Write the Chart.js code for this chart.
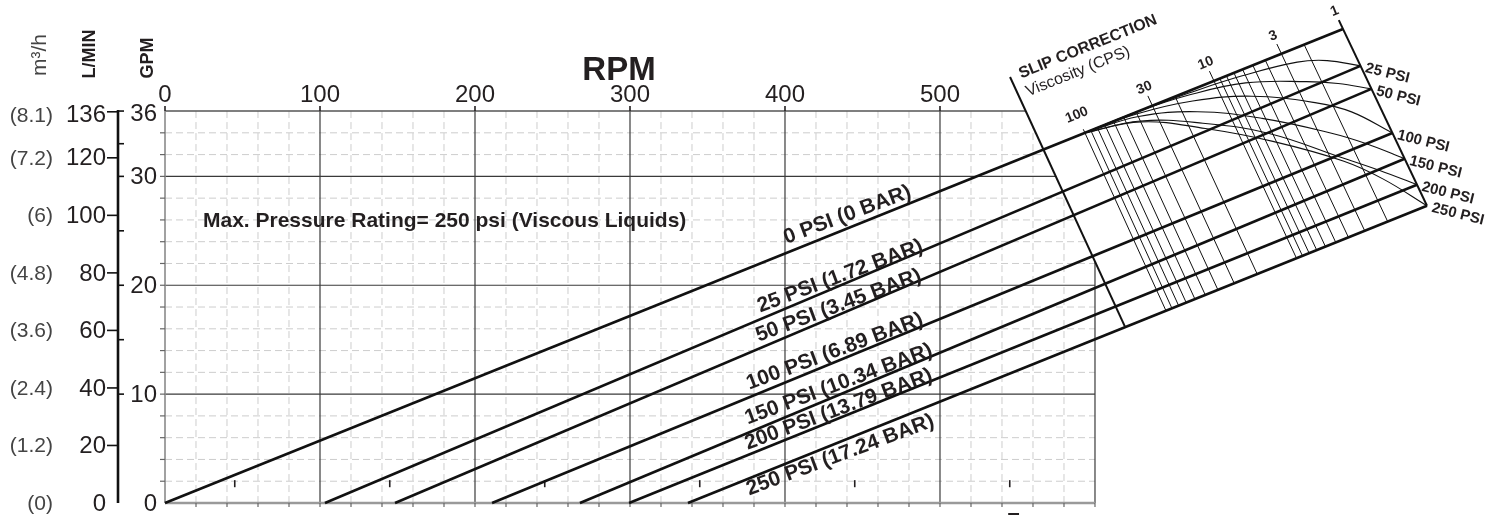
<!DOCTYPE html>
<html>
<head>
<meta charset="utf-8">
<script src="https://cdn.jsdelivr.net/npm/chart.js@4.4.0/dist/chart.umd.min.js"></script>
<style>
  html, body { margin: 0; padding: 0; background: #fff; }
  canvas { display: block; }
</style>
</head>
<body>
<canvas id="pump-chart" width="1502" height="529"></canvas>
<script>
// ─── VALUES ──────────────────────────────────────────────────────
const rpmTicks   = [0, 100, 200, 300, 400, 500];
const rpmMajor   = [100, 200, 300, 400, 500, 600];
const gpmTicks   = [0, 10, 20, 30, 36];
const gpmMajor   = [10, 20, 30];
const gpmMinor   = [15, 25, 33];
const lpmTicks   = [0, 20, 40, 60, 80, 100, 120, 136];
const m3hTicks   = ['(0)', '(1.2)', '(2.4)', '(3.6)', '(4.8)', '(6)', '(7.2)', '(8.1)'];
const LPM_PER_GPM = 3.785;
const RPM_MAX = 600, GPM_MAX = 36;          // the gridded part
const RPM_VIEW = 861.3, GPM_VIEW = 46.2;    // scale range, leaves room for the nomogram

const psiLabels   = ['0 PSI (0 BAR)', '25 PSI (1.72 BAR)', '50 PSI (3.45 BAR)', '100 PSI (6.89 BAR)',
                     '150 PSI (10.34 BAR)', '200 PSI (13.79 BAR)', '250 PSI (17.24 BAR)'];
const psiShort    = ['', '25 PSI', '50 PSI', '100 PSI', '150 PSI', '200 PSI', '250 PSI'];
const zeroFlowRpm = [0, 103.2, 148.4, 211, 267.7, 299.4, 337.4];   // RPM where each line leaves 0 GPM
const edgeDepth   = [0, 0.209, 0.339, 0.588, 0.734, 0.881, 1];     // where each line meets the 1 cP edge (0 top, 1 bottom)
const labelRpm    = [401, 384, 383, 377, 376, 376, 377];
const labelGpm    = [23.8, 17.5, 14.8, 10.4, 7.2, 4.9, 0.7];

// slip correction nomogram
const viscosity   = [100, 90, 80, 70, 60, 50, 40, 30, 20, 10, 9, 8, 7, 6, 5, 4, 3, 2];
const viscLabels  = [100, 30, 10, 3, 1];
const nomoTop     = [[593.5, 34.0], [760, 43.54]];    // 100 cP and 1 cP on the 0 PSI line
const nomoBottom  = [[645.8, 17.66], [814.2, 27.3]];  // 100 cP and 1 cP on the 250 PSI line
const nomoLeft    = [[545.2, 39.13], [619.4, 16.17]];
const curveS      = [0, 0.2, 0.4, 0.6, 0.8, 0.9, 1];  // 0 = 100 cP, 1 = 1 cP
const slip25      = [0, 0, 0.01, 0.03, 0.07, 0.12, 0.209];
const slip50      = [0, 0, 0.02, 0.07, 0.18, 0.25, 0.339];
const slip100     = [0, 0.01, 0.055, 0.145, 0.3, 0.41, 0.588];
const slip150     = [0, 0.025, 0.115, 0.27, 0.47, 0.59, 0.734];
const slip200     = [0, 0.05, 0.18, 0.355, 0.61, 0.74, 0.881];
const slip250     = [0, 0.055, 0.21, 0.4, 0.63, 0.79, 1];

const strayTickRpm = [45, 145, 245, 345, 445, 545];

// ─── HELPERS ─────────────────────────────────────────────────────
const FONT = '"Liberation Sans", Arial, sans-serif';
const INK  = '#231f20';

function lerp(a, b, t) { return [a[0] + (b[0] - a[0]) * t, a[1] + (b[1] - a[1]) * t]; }
function viscToS(v) { return (2 - Math.log10(v)) / 2; }
function nomoPoint(s, d) {
  const top = lerp(nomoTop[0], nomoTop[1], s);
  const bot = lerp(nomoBottom[0], nomoBottom[1], s);
  return lerp(top, bot, d);
}

function seg(ctx, x1, y1, x2, y2) { ctx.beginPath(); ctx.moveTo(x1, y1); ctx.lineTo(x2, y2); ctx.stroke(); }
function text(ctx, str, x, y, opts = {}) {
  ctx.save();
  ctx.translate(x, y);
  if (opts.rot) ctx.rotate(opts.rot);
  ctx.font = opts.font || '24px ' + FONT;
  ctx.fillStyle = opts.color || INK;
  ctx.textAlign = opts.align || 'left';
  ctx.textBaseline = opts.base || 'alphabetic';
  ctx.fillText(str, 0, 0);
  ctx.restore();
}

// ─── DATASETS ────────────────────────────────────────────────────
const lineSets = psiLabels.map((name, i) => {
  const end = nomoPoint(1, edgeDepth[i]);
  return {
    label: name,
    data: [{ x: zeroFlowRpm[i], y: 0 }, { x: end[0], y: end[1] }],
    borderColor: '#111', borderWidth: 2.6
  };
});

const curveSets = [slip25, slip50, slip100, slip150, slip200, slip250].map(c => ({
  label: 'slip',
  data: curveS.map((s, k) => { const p = nomoPoint(s, c[k]); return { x: p[0], y: p[1] }; }),
  borderColor: '#111', borderWidth: 1.1, tension: 0.4
}));

// ─── GRID + MASK (under the lines) ───────────────────────────────
const gridPlugin = {
  id: 'pumpGrid',
  beforeDatasetsDraw(chart) {
    const { ctx, scales: { x, y } } = chart;
    const L = x.getPixelForValue(0), R = x.getPixelForValue(RPM_MAX);
    const T = y.getPixelForValue(GPM_MAX), B = y.getPixelForValue(0);
    ctx.save();
    ctx.lineCap = 'butt';

    // dashed minor grid
    ctx.strokeStyle = '#cdcdcd'; ctx.lineWidth = 1; ctx.setLineDash([7, 4]);
    for (let r = 20; r < RPM_MAX; r += 20) if (r % 100) seg(ctx, x.getPixelForValue(r), T, x.getPixelForValue(r), B);
    for (let g = 2; g < GPM_MAX; g += 2) if (g % 10) seg(ctx, L, y.getPixelForValue(g), R, y.getPixelForValue(g));
    ctx.setLineDash([]);

    // solid major grid
    ctx.strokeStyle = '#3a3a3a'; ctx.lineWidth = 1.2;
    rpmMajor.forEach(r => seg(ctx, x.getPixelForValue(r), T, x.getPixelForValue(r), B));
    gpmMajor.forEach(g => seg(ctx, L, y.getPixelForValue(g), R, y.getPixelForValue(g)));

    // frame
    ctx.strokeStyle = '#555'; ctx.lineWidth = 1.6;
    seg(ctx, L, T, R, T);
    ctx.strokeStyle = '#8a8a8a'; ctx.lineWidth = 1.6;
    seg(ctx, L, T, L, B);
    ctx.strokeStyle = '#9a9a9a'; ctx.lineWidth = 2.4;
    seg(ctx, L, B, R, B);

    // small ticks on frame
    ctx.strokeStyle = '#666'; ctx.lineWidth = 1.2;
    for (let r = 20; r <= RPM_MAX; r += 20) seg(ctx, x.getPixelForValue(r), B, x.getPixelForValue(r), B + 4);
    for (let g = 2; g < GPM_MAX; g += 2) seg(ctx, L - 5, y.getPixelForValue(g), L, y.getPixelForValue(g));
    ctx.strokeStyle = INK; ctx.lineWidth = 1.6;
    rpmTicks.forEach(r => seg(ctx, x.getPixelForValue(r), T - 5, x.getPixelForValue(r), T));

    // white area of the nomogram covers the grid
    const poly = [nomoLeft[0], nomoLeft[1], [700, nomoLeft[1][1]], [700, 50], [nomoLeft[0][0], 50]];
    ctx.fillStyle = '#fff';
    ctx.beginPath();
    poly.forEach((p, k) => {
      const px = x.getPixelForValue(p[0]), py = y.getPixelForValue(p[1]);
      k ? ctx.lineTo(px, py) : ctx.moveTo(px, py);
    });
    ctx.closePath(); ctx.fill();

    // stray marks near the bottom
    ctx.strokeStyle = INK; ctx.lineWidth = 1.6;
    strayTickRpm.forEach(r => seg(ctx, x.getPixelForValue(r), y.getPixelForValue(2.1), x.getPixelForValue(r), y.getPixelForValue(1.45)));
    ctx.lineWidth = 2;
    seg(ctx, x.getPixelForValue(544), B + 11, x.getPixelForValue(551), B + 11);
    ctx.restore();
  }
};

// ─── NOMOGRAM, AXES AND TEXT (over the lines) ────────────────────
const annotPlugin = {
  id: 'pumpAnnot',
  afterDatasetsDraw(chart) {
    const { ctx, scales: { x, y } } = chart;
    const P = p => [x.getPixelForValue(p[0]), y.getPixelForValue(p[1])];
    const T = y.getPixelForValue(GPM_MAX);
    ctx.save();

    // viscosity lines
    ctx.strokeStyle = '#111'; ctx.lineWidth = 1;
    viscosity.forEach(v => {
      const s = viscToS(v);
      const t = P(nomoPoint(s, viscLabels.includes(v) ? (v === 100 ? -0.02 : -0.055) : 0));
      const b = P(nomoPoint(s, 1));
      seg(ctx, t[0], t[1], b[0], b[1]);
    });
    // edges
    ctx.lineWidth = 2;
    let p1 = P(nomoPoint(1, -0.05)), p2 = P(nomoPoint(1, 1));
    seg(ctx, p1[0], p1[1], p2[0], p2[1]);
    p1 = P(nomoLeft[0]); p2 = P(nomoLeft[1]);
    seg(ctx, p1[0], p1[1], p2[0], p2[1]);

    const t0 = P(nomoTop[0]), t1 = P(nomoTop[1]);
    const topAng = Math.atan2(t1[1] - t0[1], t1[0] - t0[0]);

    // viscosity labels
    viscLabels.forEach(v => {
      const q = P(nomoPoint(viscToS(v), -0.1));
      text(ctx, String(v), q[0], q[1], { font: 'bold 14px ' + FONT, align: 'center', base: 'middle', rot: topAng });
    });
    // slip correction title along left edge top
    const sc = P(lerp(nomoLeft[0], nomoLeft[1], 0.01));
    text(ctx, 'SLIP CORRECTION', sc[0] + 10, sc[1] - 1, { font: 'bold 16px ' + FONT, rot: topAng });
    text(ctx, 'Viscosity (CPS)', sc[0] + 17, sc[1] + 17, { font: '16px ' + FONT, rot: topAng });

    // PSI names at right edge
    psiShort.forEach((name, i) => {
      if (!name) return;
      const q = P(nomoPoint(1, edgeDepth[i]));
      text(ctx, name, q[0] + 5, q[1] + 2, { font: 'bold 15px ' + FONT, base: 'middle', rot: 14 * Math.PI / 180 });
    });

    // line labels
    psiLabels.forEach((name, i) => {
      const q = P([labelRpm[i], labelGpm[i]]);
      text(ctx, name, q[0], q[1], { font: 'bold 21px ' + FONT, rot: -20.5 * Math.PI / 180 });
    });

    const mp = P([24.5, 25.35]);
    text(ctx, 'Max. Pressure Rating= 250 psi (Viscous Liquids)', mp[0], mp[1], { font: 'bold 21px ' + FONT });

    // RPM axis on top
    rpmTicks.forEach(r => text(ctx, String(r), x.getPixelForValue(r), T - 9, { align: 'center' }));
    text(ctx, 'RPM', x.getPixelForValue(292.9), T - 31, { font: 'bold 33px ' + FONT, align: 'center' });

    // left flow axes
    const axisX = x.getPixelForValue(0) - 47;
    ctx.strokeStyle = '#111'; ctx.lineWidth = 2.6;
    seg(ctx, axisX, T - 1, axisX, y.getPixelForValue(0));
    ctx.lineWidth = 1.6;
    lpmTicks.forEach((l, i) => {
      const py = y.getPixelForValue(l / LPM_PER_GPM);
      const dy = l === 136 ? 4 : 1;
      if (l) seg(ctx, axisX - 11, py, axisX, py);
      text(ctx, String(l), axisX - 12, py + dy, { base: 'middle', align: 'right' });
      text(ctx, m3hTicks[i], 53, py + dy, { font: '21px ' + FONT, color: '#444', base: 'middle', align: 'right' });
    });
    gpmTicks.concat(gpmMinor).forEach(g => { if (g) seg(ctx, axisX, y.getPixelForValue(g), axisX + 6, y.getPixelForValue(g)); });
    gpmTicks.forEach(g => text(ctx, String(g), axisX + 39, y.getPixelForValue(g) + (g === 36 ? 3 : 1), { base: 'middle', align: 'right' }));

    // unit headers
    const up = -Math.PI / 2;
    text(ctx, 'm³/h', 40, 55, { font: '21px ' + FONT, color: '#444', align: 'center', base: 'middle', rot: up });
    text(ctx, 'L/MIN', 90, 54, { font: 'bold 18px ' + FONT, align: 'center', base: 'middle', rot: up });
    text(ctx, 'GPM', 148, 58, { font: 'bold 18px ' + FONT, align: 'center', base: 'middle', rot: up });
    ctx.restore();
  }
};

new Chart(document.getElementById('pump-chart'), {
  type: 'scatter',
  data: {
    datasets: lineSets.concat(curveSets).map(d => Object.assign({
      showLine: true, pointRadius: 0, pointHoverRadius: 0, fill: false, clip: false
    }, d))
  },
  options: {
    responsive: false,
    animation: false,
    elements: { line: { capBezierPoints: false } },
    layout: { padding: { left: 165, right: 2, top: 0, bottom: 26 } },
    plugins: { legend: { display: false }, tooltip: { enabled: false } },
    scales: {
      x: { type: 'linear', min: 0, max: RPM_VIEW, display: false },
      y: { type: 'linear', min: 0, max: GPM_VIEW, display: false }
    }
  },
  plugins: [gridPlugin, annotPlugin]
});
</script>
</body>
</html>
